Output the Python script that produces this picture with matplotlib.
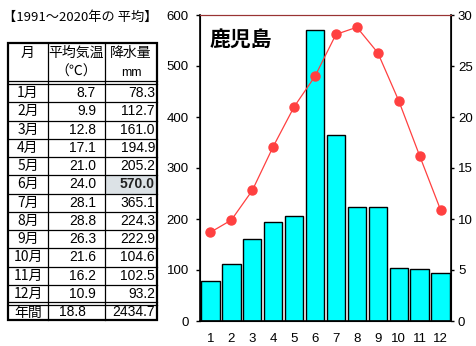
import numpy as np
import matplotlib.pyplot as plt
import matplotlib.ticker as ticker

plt.rcParams['font.family'] = ['Liberation Sans', 'Noto Sans CJK JP', 'DejaVu Sans']

# 鹿児島 1991～2020年の平均
months = [1, 2, 3, 4, 5, 6, 7, 8, 9, 10, 11, 12]
month_labels = ['1月', '2月', '3月', '4月', '5月', '6月', '7月', '8月', '9月', '10月', '11月', '12月']
temp = [8.7, 9.9, 12.8, 17.1, 21.0, 24.0, 28.1, 28.8, 26.3, 21.6, 16.2, 10.9]
precip = [78.3, 112.7, 161.0, 194.9, 205.2, 570.0, 365.1, 224.3, 222.9, 104.6, 102.5, 93.2]
temp_year = 18.8
precip_year = 2434.7
city = '鹿児島'
title = '【1991～2020年の 平均】'

W, H = 477, 346
fig = plt.figure(figsize=(W / 100, H / 100), dpi=100)

# --- グラフ部分 ---
ax = fig.add_axes([200 / W, 1 - 321 / H, 251 / W, 306 / H])
ax.bar(months, precip, width=0.88, color='#00FFFF', edgecolor='black', linewidth=1.0, zorder=2)
ax.set_xlim(0.5, 12.5)
ax.set_ylim(0, 600)
ax.yaxis.set_major_locator(ticker.MultipleLocator(100))
ax.set_xticks(months)
ax.set_xticklabels([str(m) for m in months])
ax.tick_params(axis='x', length=0, pad=9, labelsize=9.5)
ax.tick_params(axis='y', direction='out', length=3, width=1, labelsize=9.5, pad=5)
ax.spines['top'].set_color('#993333')
for s in ['left', 'bottom']:
    ax.spines[s].set_linewidth(1.2)

ax2 = ax.twinx()
ax2.plot(months, temp, color='#FF4040', linewidth=0.9, marker='o', markersize=6.5,
         markerfacecolor='#FF4040', markeredgecolor='#FF4040', zorder=3)
ax2.set_ylim(0, 30)
ax2.yaxis.set_major_locator(ticker.MultipleLocator(5))
ax2.tick_params(axis='y', direction='out', length=2.5, width=1, labelsize=9.5, pad=2.5)
ax2.spines['top'].set_color('#993333')
ax2.spines['right'].set_linewidth(1.2)

ax.text(0.04, 0.955, city, transform=ax.transAxes, fontsize=15, fontweight='bold',
        ha='left', va='top', family=['Noto Sans CJK JP'])

# --- 表部分 ---
tb = fig.add_axes([0, 0, 1, 1], zorder=5)
tb.set_xlim(0, W)
tb.set_ylim(H, 0)
tb.axis('off')

x0, x1, x2, x3 = 8, 48, 105, 157
y_top = 43
y_head = 82
row_h = 18.25
y_rows = [y_head + 2 + i * row_h for i in range(13)]
y_bot = 320

tb.text(3, 17, title, fontsize=9.5, ha='left', va='center', family=['Noto Sans CJK JP'])

# 6月の降水量セルの背景
i6 = 5
tb.add_patch(plt.Rectangle((x2, y_rows[i6]), x3 - x2, row_h, facecolor='#DCE2E6', edgecolor='none'))

# 外枠
tb.add_patch(plt.Rectangle((x0, y_top), x3 - x0, y_bot - y_top, facecolor='none',
                           edgecolor='black', linewidth=1.6))
# 縦線
for xv in [x1, x2]:
    tb.plot([xv, xv], [y_top, y_bot], color='black', linewidth=0.9)
# 見出し下の二重線
tb.plot([x0, x3], [y_head - 1, y_head - 1], color='black', linewidth=0.9)
tb.plot([x0, x3], [y_head + 2, y_head + 2], color='black', linewidth=0.9)
# 行の線
for i in range(1, 12):
    yv = y_rows[i]
    tb.plot([x0, x3], [yv, yv], color='black', linewidth=0.9)
# 年間の上の二重線
y_yr = y_rows[12]
tb.plot([x0, x3], [y_yr - 1, y_yr - 1], color='black', linewidth=0.9)
tb.plot([x0, x3], [y_yr + 2, y_yr + 2], color='black', linewidth=0.9)

fs = 10
jp = ['Noto Sans CJK JP']
tb.text((x0 + x1) / 2, 53, '月', fontsize=fs, ha='center', va='center', family=jp)
tb.text((x1 + x2) / 2, 53, '平均気温', fontsize=fs, ha='center', va='center', family=jp)
tb.text((x1 + x2) / 2, 72, '（℃）', fontsize=fs, ha='center', va='center', family=jp)
tb.text((x2 + x3) / 2, 53, '降水量', fontsize=fs, ha='center', va='center', family=jp)
tb.text((x2 + x3) / 2, 73, 'mm', fontsize=fs - 1, ha='center', va='center')

for i in range(12):
    yc = y_rows[i] + row_h / 2
    tb.text((x0 + x1) / 2, yc, month_labels[i], fontsize=fs, ha='center', va='center', family=jp)
    tb.text(x2 - 9, yc, f'{temp[i]:.1f}', fontsize=fs, ha='right', va='center')
    if i == i6:
        tb.text(x3 - 2, yc, f'{precip[i]:.1f}', fontsize=fs, ha='right', va='center',
                fontweight='bold', color='#222222')
    else:
        tb.text(x3 - 2, yc, f'{precip[i]:.1f}', fontsize=fs, ha='right', va='center')

yc = (y_yr + 2 + y_bot) / 2
tb.text((x0 + x1) / 2, yc, '年間', fontsize=fs, ha='center', va='center', family=jp)
tb.text((x1 + x2) / 2 - 4, yc, f'{temp_year:.1f}', fontsize=fs, ha='center', va='center')
tb.text(x3 - 2, yc, f'{precip_year:.1f}', fontsize=fs, ha='right', va='center')

fig.savefig('out.png', dpi=100)
